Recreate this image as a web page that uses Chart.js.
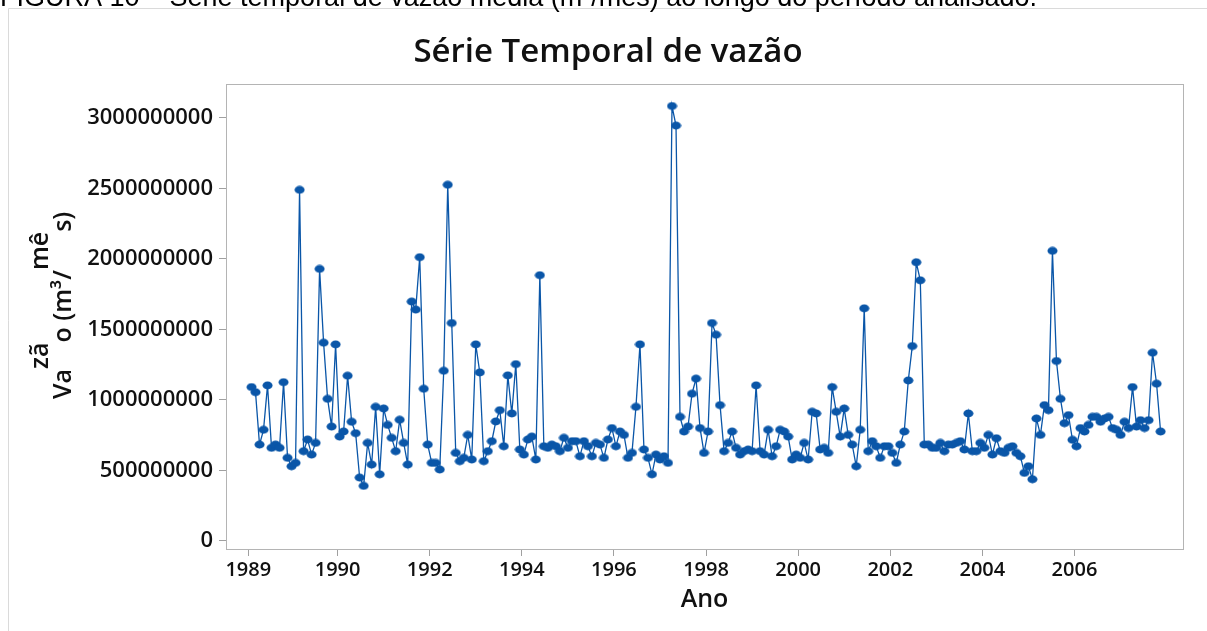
<!DOCTYPE html>
<html>
<head>
<meta charset="utf-8">
<title>Série Temporal de vazão</title>
<script src="https://cdn.jsdelivr.net/npm/chart.js@4.4.1/dist/chart.umd.min.js"></script>
<style>
  html, body { margin: 0; padding: 0; background: #fff; }
  #wrap { position: relative; width: 1207px; height: 631px; overflow: hidden; }
</style>
</head>
<body>
<div id="wrap"><canvas id="serie" width="1207" height="631"></canvas></div>
<script>
// monthly flow, in millions of m³/month, one row per year (1989 .. 2007)
const vazaoMilhoes = [
  1090, 1054, 682, 787, 1102, 659, 682, 659, 1125, 588, 528, 552,
  2490, 635, 718, 611, 694, 1929, 1405, 1007, 810, 1393, 739, 775,
  1171, 844, 763, 448, 389, 694, 540, 950, 471, 938, 822, 730,
  635, 858, 694, 540, 1697, 1640, 2012, 1078, 682, 552, 552, 505,
  1206, 2526, 1545, 623, 564, 588, 751, 576, 1393, 1194, 564, 635,
  706, 846, 926, 670, 1173, 903, 1253, 647, 611, 718, 739, 576,
  1884, 670, 659, 682, 670, 635, 730, 659, 706, 706, 599, 706,
  670, 599, 694, 682, 588, 718, 799, 670, 775, 751, 588, 623,
  950, 1393, 647, 588, 471, 611, 576, 599, 552, 3085, 2946, 879,
  775, 810, 1043, 1150, 799, 623, 775, 1545, 1462, 962, 635, 694,
  775, 659, 611, 635, 647, 635, 1102, 635, 611, 787, 599, 670,
  787, 775, 739, 576, 611, 588, 694, 576, 915, 903, 647, 659,
  623, 1090, 915, 739, 938, 751, 682, 528, 787, 1649, 635, 706,
  670, 588, 670, 670, 623, 552, 682, 775, 1137, 1381, 1976, 1848,
  682, 682, 659, 659, 694, 635, 682, 682, 694, 706, 647, 903,
  635, 635, 694, 659, 751, 611, 727, 635, 623, 659, 670, 623,
  599, 481, 528, 436, 867, 751, 962, 926, 2057, 1275, 1007, 834,
  891, 716, 670, 799, 775, 822, 879, 879, 844, 867, 879, 799,
  787, 751, 844, 799, 1090, 810, 855, 799, 855, 1334, 1114, 775
];

// x axis: observation index, labelled with years at these indexes
const xTickIndex = [-0.8, 21.5, 44.5, 67.5, 90.5, 113.5, 136.5, 159.5, 182.5, 205.5];
const xTickLabels = ["1989", "1990", "1992", "1994", "1996", "1998", "2000", "2002", "2004", "2006"];
const yTicks = [0, 500000000, 1000000000, 1500000000, 2000000000, 2500000000, 3000000000];

const caption = "FIGURA 10 – Série temporal de vazão média (m³/mês) ao longo do período analisado.";
const blue = "#0a56a8";
const textColor = "#111";

const points = vazaoMilhoes.map((v, i) => ({ x: i, y: v * 1e6 }));

// ellipse marker like the original
const dot = document.createElement("canvas");
dot.width = 11;
dot.height = 9;
{
  const d = dot.getContext("2d");
  d.fillStyle = blue;
  d.beginPath();
  d.ellipse(5.5, 4.5, 5, 3.9, 0, 0, Math.PI * 2);
  d.fill();
}

const framePlugin = {
  id: "frame",
  beforeDraw(chart) {
    const c = chart.ctx;
    c.save();
    c.fillStyle = "#fff";
    c.fillRect(0, 0, chart.width, chart.height);
    c.strokeStyle = "#dadada";
    c.lineWidth = 1;
    c.beginPath();
    c.moveTo(8.5, 640);
    c.lineTo(8.5, 8.5);
    c.lineTo(1210, 8.5);
    c.stroke();
    c.fillStyle = "#000";
    c.font = '27px "Liberation Sans", Arial, sans-serif';
    c.textBaseline = "alphabetic";
    c.textAlign = "left";
    c.fillText(caption, 0, 6);
    c.restore();
  },
  beforeDatasetsDraw(chart) {
    const a = chart.chartArea;
    const c = chart.ctx;
    c.save();
    c.strokeStyle = "#b4b4b4";
    c.lineWidth = 1;
    c.strokeRect(Math.round(a.left) + 0.5, Math.round(a.top) + 0.5,
      Math.round(a.right - a.left), Math.round(a.bottom - a.top));
    c.restore();
  },
  afterDraw(chart) {
    // y title, with the raised syllables of the original
    const c = chart.ctx;
    const pieces = [
      { t: "Va", up: false },
      { t: "zã", up: true },
      { t: "o (m³/", up: false },
      { t: "mê", up: true },
      { t: "s)", up: false }
    ];
    c.save();
    c.translate(71, 399);
    c.rotate(-Math.PI / 2);
    c.font = '600 25px "Open Sans", sans-serif';
    c.fillStyle = textColor;
    c.textBaseline = "alphabetic";
    c.textAlign = "left";
    let pen = 0;
    pieces.forEach(p => {
      c.fillText(p.t, pen, p.up ? -23 : 0);
      pen += c.measureText(p.t).width;
    });
    c.restore();
  }
};

new Chart(document.getElementById("serie"), {
  type: "line",
  data: {
    datasets: [{
      data: points,
      borderColor: blue,
      backgroundColor: blue,
      borderWidth: 1.3,
      pointStyle: dot,
      pointRadius: 4,
      tension: 0,
      fill: false
    }]
  },
  options: {
    responsive: false,
    animation: false,
    layout: { padding: { left: 33, right: 24, top: 0, bottom: 0 } },
    plugins: {
      legend: { display: false },
      tooltip: { enabled: false },
      title: {
        display: true,
        text: "Série Temporal de vazão",
        color: textColor,
        font: { family: "Open Sans", size: 33, weight: "600" },
        padding: { top: 33, bottom: 11.4 }
      }
    },
    scales: {
      x: {
        type: "linear",
        min: -6.37,
        max: 232.6,
        afterBuildTicks: s => { s.ticks = xTickIndex.map(v => ({ value: v })); },
        afterFit: s => { s.height = 82; },
        ticks: {
          autoSkip: false,
          maxRotation: 0,
          padding: 2,
          color: textColor,
          font: { family: "Open Sans", size: 20, weight: "600" },
          callback: (v, i) => xTickLabels[i]
        },
        grid: { drawOnChartArea: false, tickLength: 7, color: "#a0a0a0" },
        border: { color: "#a0a0a0" },
        title: {
          display: true,
          text: "Ano",
          color: textColor,
          font: { family: "Open Sans", size: 25, weight: "600" },
          padding: { top: 0, bottom: 16 }
        }
      },
      y: {
        min: -58.9e6,
        max: 3241.3e6,
        afterBuildTicks: s => { s.ticks = yTicks.map(v => ({ value: v })); },
        afterFit: s => { s.width = 193; },
        ticks: {
          padding: 6,
          color: textColor,
          font: { family: "Open Sans", size: 22, weight: "600" },
          callback: v => String(v)
        },
        grid: { drawOnChartArea: false, tickLength: 7, color: "#a0a0a0" },
        border: { color: "#a0a0a0" }
      }
    }
  },
  plugins: [framePlugin]
});
</script>
</body>
</html>
